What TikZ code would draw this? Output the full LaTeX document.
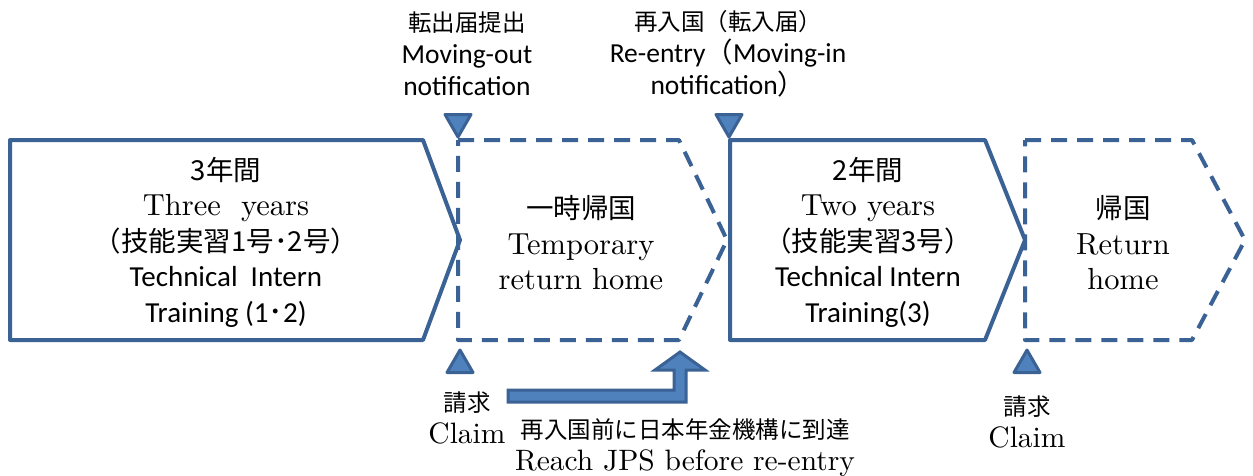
\documentclass[tikz,border=0pt]{standalone}
\usepackage{fontspec}
\newfontfamily\jp{Noto Sans CJK JP}
\newfontfamily\carl{Carlito}
\newfontfamily\cmr{lmroman10-regular.otf}
\usetikzlibrary{shapes.geometric}

\definecolor{lineblue}{RGB}{59,98,148}
\definecolor{fillblue}{RGB}{79,129,189}

\newcommand\jpL{\jp\fontsize{27.5}{35.5}\selectfont}
\newcommand\rmL{\cmr\fontsize{30.5}{35.5}\selectfont}
\newcommand\sfL{\carl\fontsize{29}{35.5}\selectfont}
\newcommand\jpS{\jp\fontsize{23.5}{32}\selectfont}
\newcommand\rmS{\cmr\fontsize{29.5}{32}\selectfont}
\newcommand\sfS{\carl\fontsize{27.5}{32}\selectfont}

\begin{document}
\begin{tikzpicture}[x=1pt,y=-1pt,
  stage/.style={draw=lineblue,line width=4pt,line join=round},
  gapstage/.style={stage,dash pattern=on 16pt off 10pt},
  markdown/.style={regular polygon,regular polygon sides=3,shape border rotate=180,
    draw=lineblue,fill=fillblue,line width=3pt,line join=round,minimum size=30pt,inner sep=0pt},
  markup/.style={markdown,shape border rotate=0},
  bigtxt/.style={align=center,inner sep=0pt,font=\fontsize{28}{35.5}\selectfont},
  smalltxt/.style={align=center,inner sep=0pt,font=\fontsize{24}{32}\selectfont}]
\useasboundingbox (0,0) rectangle (1253,475);

% stages
\draw[stage] (10,140) -- (423,140) -- (460,240) -- (423,340) -- (10,340) -- cycle;
\draw[gapstage] (458,140) -- (679,140) -- (727,240) -- (679,340) -- (458,340) -- cycle;
\draw[stage] (730,140) -- (985,140) -- (1025,240) -- (985,340) -- (730,340) -- cycle;
\draw[gapstage] (1025,140) -- (1192,140) -- (1245,240) -- (1192,340) -- (1025,340) -- cycle;

\node[bigtxt] (first) at (226,242) {{\jpL 3年間}\\{\rmL Three\ \ years}\\{\jpL （技能実習1号･2号）}\\{\sfL Technical\ \ Intern}\\{\sfL Training (1{\jp ･}2)}};
\node[bigtxt] (visit) at (581,243) {{\jpL 一時帰国}\\{\rmL Temporary}\\{\rmL return home}};
\node[bigtxt] (second) at (868,242) {{\jpL 2年間}\\{\rmL Two years}\\{\jpL （技能実習3号）}\\{\sfL Technical Intern}\\{\sfL Training(3)}};
\node[bigtxt] (home) at (1123,243) {{\jpL 帰国}\\{\rmL Return}\\{\rmL home}};

% markers
\node[markdown] (outmark) at (458,122) {};
\node[markdown] (inmark) at (729,122) {};
\node[markup] (claimmark) at (460,365) {};
\node[markup] (claimmarkb) at (1027,365) {};

\node[smalltxt] (outnote) at (467,54) {{\jpS 転出届提出}\\{\sfS Moving-out}\\{\sfS notification}};
\node[smalltxt] (innote) at (728,54) {{\jpS 再入国（転入届）}\\{\sfS Re-entry{\jp （}Moving-in}\\{\sfS notification{\jp ）}}};
\node[smalltxt] (claim) at (467,418) {{\jpS 請求}\\{\rmS Claim}};
\node[smalltxt] (claimb) at (1027,422) {{\jpS 請求}\\{\rmS Claim}};
\node[smalltxt] (reach) at (685,448) {{\jpS 再入国前に日本年金機構に到達}\\{\rmS Reach JPS before re-entry}};

% bent block arrow
\filldraw[draw=lineblue,fill=fillblue,line width=3pt] (508,390) -- (674,390) -- (674,370) -- (655,370)
  -- (680,352) -- (705,370) -- (686,370) -- (686,402) -- (508,402) -- cycle;
\end{tikzpicture}
\end{document}
